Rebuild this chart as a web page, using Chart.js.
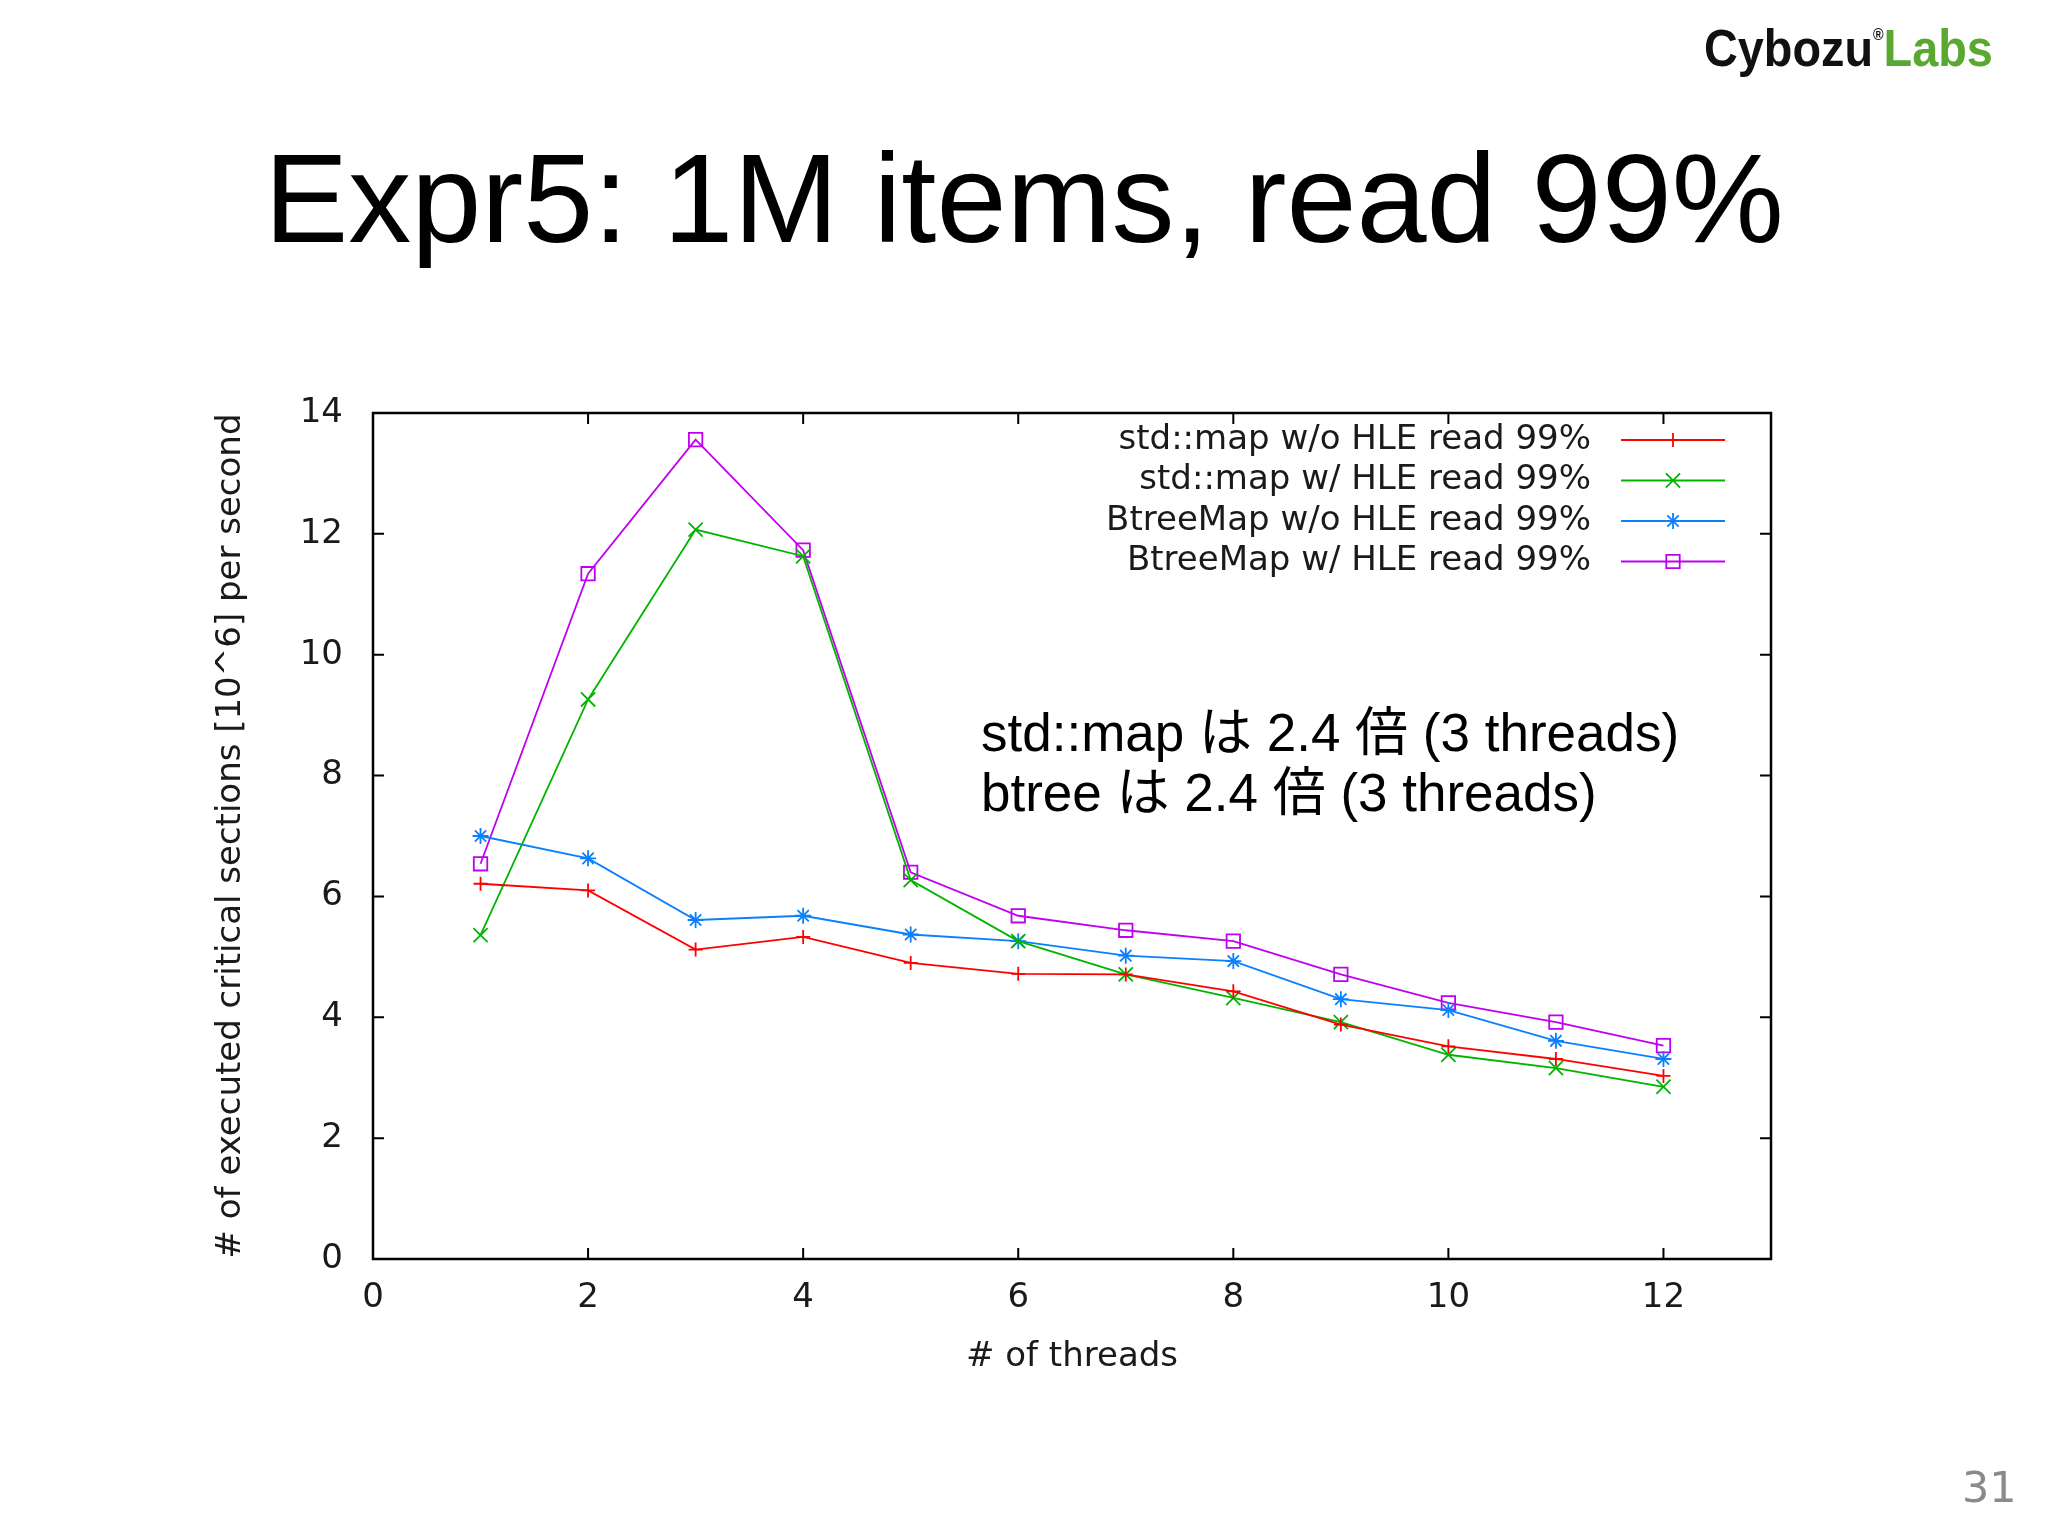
<!DOCTYPE html>
<html>
<head>
<meta charset="utf-8">
<script src="https://cdn.jsdelivr.net/npm/chart.js@4.4.0/dist/chart.umd.min.js"></script>
<style>
  html, body { margin: 0; padding: 0; background: #fff; }
  #page { position: relative; width: 2048px; height: 1536px; overflow: hidden; background: #fff; }
  #chartExpr { position: absolute; left: 0; top: 0; }
  .txt { position: absolute; white-space: nowrap; line-height: 1; }
  #title { left: 0; width: 2048px; top: 136px; text-align: center; font-family: "Liberation Sans", Arial, sans-serif; font-size: 126px; color: #000; }
  #logo { left: 1704px; top: 22px; font-family: "Liberation Sans", Roboto, sans-serif; font-weight: bold; font-size: 52px; transform: scaleX(0.9); transform-origin: left top; }
  #logo .cy { color: #111; }
  #logo .reg { font-size: 16px; vertical-align: 26px; color: #111; }
  #logo .labs { color: #5aa832; }
  #note { left: 981px; top: 703px; font-family: "Liberation Sans", "Noto Sans CJK JP", sans-serif; font-size: 53px; line-height: 60px; color: #000; }
  #pageNum { left: 1962px; top: 1466px; font-family: "DejaVu Sans", sans-serif; font-size: 43px; color: #8a8a8a; }
</style>
</head>
<body>
<div id="page">
  <canvas id="chartExpr" width="2048" height="1536"></canvas>
  <div class="txt" id="logo"><span class="cy">Cybozu</span><span class="reg">®</span><span class="labs">Labs</span></div>
  <div class="txt" id="title">Expr5: 1M items, read 99%</div>
  <div class="txt" id="note">std::map は 2.4 倍 (3 threads)<br>btree は 2.4 倍 (3 threads)</div>
  <div class="txt" id="pageNum">31</div>
</div>
<script>
// datos
const threads = [1, 2, 3, 4, 5, 6, 7, 8, 9, 10, 11, 12];
const stdMapSinHle = [6.21, 6.10, 5.12, 5.33, 4.90, 4.72, 4.71, 4.43, 3.88, 3.52, 3.31, 3.03];
const stdMapConHle = [5.36, 9.26, 12.07, 11.63, 6.27, 5.26, 4.71, 4.32, 3.92, 3.38, 3.16, 2.85];
const btreeSinHle = [7.00, 6.63, 5.61, 5.68, 5.37, 5.26, 5.02, 4.93, 4.30, 4.12, 3.61, 3.31];
const btreeConHle = [6.54, 11.34, 13.56, 11.73, 6.40, 5.68, 5.44, 5.26, 4.71, 4.24, 3.92, 3.53];

const nombresSeries = [
  "std::map w/o HLE read 99%",
  "std::map w/ HLE read 99%",
  "BtreeMap w/o HLE read 99%",
  "BtreeMap w/ HLE read 99%"
];

const ticksX = [0, 2, 4, 6, 8, 10, 12];
const ticksY = [0, 2, 4, 6, 8, 10, 12, 14];

const fuenteGnuplot = "'DejaVu Sans', sans-serif";
const tamFuente = 34;

function puntos(valores) {
  return threads.map((t, i) => ({ x: t, y: valores[i] }));
}

function serie(label, valores, color, estilo, radio) {
  return {
    label: label,
    data: puntos(valores),
    borderColor: color,
    backgroundColor: color,
    borderWidth: 1.8,
    pointStyle: estilo,
    pointRadius: radio,
    pointBorderWidth: 1.8,
    pointBorderColor: color,
    pointBackgroundColor: "rgba(0,0,0,0)",
    tension: 0,
    fill: false
  };
}

// marco y ticks hacia dentro, como gnuplot
const marcoPlugin = {
  id: "marco",
  beforeDatasetsDraw(chart) {
    const { ctx, chartArea: a, scales } = chart;
    const largo = 11;
    ctx.save();
    ctx.strokeStyle = "#000";
    ctx.lineWidth = 2;
    ctx.beginPath();
    scales.x.ticks.forEach((t) => {
      const px = scales.x.getPixelForValue(t.value);
      if (px <= a.left + 1 || px >= a.right - 1) return;
      ctx.moveTo(px, a.bottom);
      ctx.lineTo(px, a.bottom - largo);
      ctx.moveTo(px, a.top);
      ctx.lineTo(px, a.top + largo);
    });
    scales.y.ticks.forEach((t) => {
      const py = scales.y.getPixelForValue(t.value);
      if (py <= a.top + 1 || py >= a.bottom - 1) return;
      ctx.moveTo(a.left, py);
      ctx.lineTo(a.left + largo, py);
      ctx.moveTo(a.right, py);
      ctx.lineTo(a.right - largo, py);
    });
    ctx.stroke();
    ctx.lineWidth = 2.5;
    ctx.strokeRect(a.left, a.top, a.right - a.left, a.bottom - a.top);
    ctx.restore();
  }
};

// leyenda con texto a la derecha y muestra de linea, estilo gnuplot
const leyendaPlugin = {
  id: "leyendaGnuplot",
  afterDatasetsDraw(chart) {
    const { ctx, chartArea: a } = chart;
    ctx.save();
    ctx.font = tamFuente + "px " + fuenteGnuplot;
    ctx.textAlign = "right";
    ctx.textBaseline = "middle";
    chart.data.datasets.forEach((ds, i) => {
      const y = a.top + 27 + i * 40.5;
      ctx.fillStyle = "#1a1a1a";
      ctx.fillText(ds.label, a.right - 180, y);
      ctx.strokeStyle = ds.borderColor;
      ctx.lineWidth = ds.borderWidth;
      ctx.beginPath();
      ctx.moveTo(a.right - 150, y);
      ctx.lineTo(a.right - 46, y);
      ctx.stroke();
      ctx.fillStyle = "rgba(0,0,0,0)";
      Chart.helpers.drawPoint(ctx, {
        pointStyle: ds.pointStyle,
        rotation: 0,
        radius: ds.pointRadius,
        borderWidth: ds.pointBorderWidth
      }, a.right - 98, y);
    });
    ctx.restore();
  }
};

const contexto = document.getElementById("chartExpr").getContext("2d");

new Chart(contexto, {
  type: "line",
  data: {
    datasets: [
      serie(nombresSeries[0], stdMapSinHle, "#ff0000", "cross", 7),
      serie(nombresSeries[1], stdMapConHle, "#00b400", "crossRot", 10),
      serie(nombresSeries[2], btreeSinHle, "#0a80ff", "star", 8),
      serie(nombresSeries[3], btreeConHle, "#c000f0", "rect", 9.5)
    ]
  },
  options: {
    responsive: false,
    animation: false,
    devicePixelRatio: 1,
    layout: { padding: { left: 207, top: 413, right: 277, bottom: 0 } },
    plugins: {
      legend: { display: false },
      tooltip: { enabled: false }
    },
    scales: {
      x: {
        type: "linear",
        min: 0,
        max: 13,
        grid: { display: false, drawTicks: false },
        border: { display: false },
        afterBuildTicks: (scale) => {
          scale.ticks = ticksX.map((v) => ({ value: v }));
        },
        afterFit: (scale) => {
          scale.height = 277;
        },
        ticks: {
          padding: 19,
          color: "#1a1a1a",
          font: { family: fuenteGnuplot, size: tamFuente }
        },
        title: {
          display: true,
          text: "# of threads",
          color: "#1a1a1a",
          padding: { top: 0, bottom: 158 },
          font: { family: fuenteGnuplot, size: tamFuente }
        }
      },
      y: {
        min: 0,
        max: 14,
        grid: { display: false, drawTicks: false },
        border: { display: false },
        afterBuildTicks: (scale) => {
          scale.ticks = ticksY.map((v) => ({ value: v }));
        },
        afterFit: (scale) => {
          scale.width = 166;
        },
        ticks: {
          padding: 30,
          color: "#1a1a1a",
          font: { family: fuenteGnuplot, size: tamFuente }
        },
        title: {
          display: true,
          text: "# of executed critical sections [10^6] per second",
          color: "#1a1a1a",
          padding: { top: 4, bottom: 4 },
          font: { family: fuenteGnuplot, size: tamFuente }
        }
      }
    }
  },
  plugins: [marcoPlugin, leyendaPlugin]
});
</script>
</body>
</html>
